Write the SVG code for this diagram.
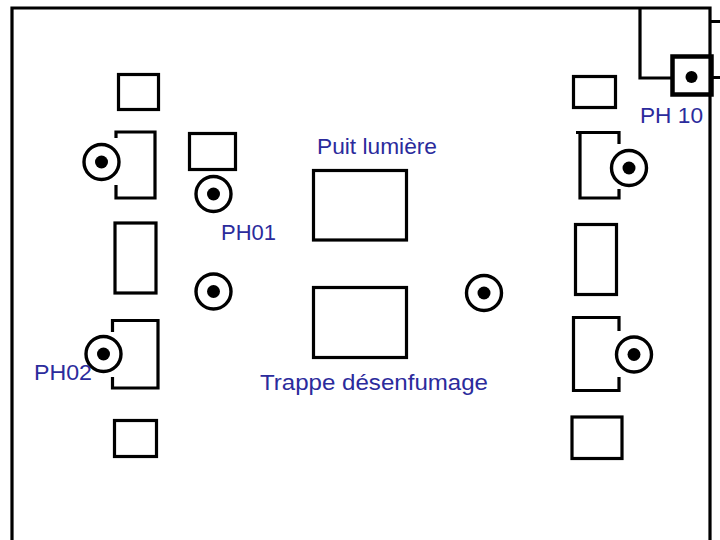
<svg xmlns="http://www.w3.org/2000/svg" width="720" height="540" viewBox="0 0 720 540">
<style>
.s{fill:none;stroke:#000;stroke-width:3.2}
.c{fill:#fff;stroke:#000;stroke-width:3.4}
.d{fill:#000}
.t{font-family:"Liberation Sans",Arial,sans-serif;font-size:22.500px;fill:#2b2b9c}
</style>
<rect width="720" height="540" fill="#fff"/>
<g id="walls">
<path class="s" d="M12 540V8H710V96"/>
<path class="s" d="M640 8V78H672"/>
<path class="s" d="M710 96V540"/>
<path class="s" d="M711 21.500H720M712 77.500H720"/>
</g>
<g id="box-ph10"><rect x="672.500" y="56.500" width="39" height="38" fill="none" stroke="#000" stroke-width="4.500"/><circle class="d" cx="691.500" cy="77" r="6"/></g>
<g id="rect-l1"><rect class="s" x="118.500" y="74.500" width="40" height="35"/></g>
<g id="rect-l2"><rect class="s" x="189.500" y="133.500" width="46" height="36" stroke-width="2.600"/></g>
<g id="rect-l3"><rect class="s" x="115" y="223" width="41" height="70"/></g>
<g id="rect-l4"><rect class="s" x="114.500" y="420.500" width="42" height="36"/></g>
<g id="rect-r1"><rect class="s" x="573.500" y="76.500" width="42" height="31"/></g>
<g id="rect-r2"><rect class="s" x="575.500" y="224.500" width="41" height="70"/></g>
<g id="rect-r3"><rect class="s" x="572" y="417" width="50" height="41.500"/></g>
<g id="puit"><rect class="s" x="313.500" y="170.500" width="93" height="69.500"/></g>
<g id="trappe"><rect class="s" x="313.500" y="287.500" width="93" height="70"/></g>
<g id="bracket-l1"><path class="s" d="M116 138V132H155V198H116V185"/></g>
<g id="bracket-l2"><path class="s" d="M112.500 332V320.500H158V388H112.500V377"/></g>
<g id="bracket-r1"><path class="s" d="M576 132.500H619V144M619 189V198H580V132.500"/></g>
<g id="bracket-r2"><path class="s" d="M619 331V317.500H573.500V390.500H619V377"/></g>
<g id="ph-l1"><circle class="c" cx="101.500" cy="162" r="17.500"/><circle class="d" cx="101.500" cy="162" r="6.500"/></g>
<g id="ph01"><circle class="c" cx="213.500" cy="194" r="17.500"/><circle class="d" cx="213.500" cy="194" r="6.500"/></g>
<g id="ph-c"><circle class="c" cx="213.500" cy="291.500" r="17.500"/><circle class="d" cx="213.500" cy="291.500" r="6.500"/></g>
<g id="ph02"><circle class="c" cx="103.500" cy="354" r="17.500"/><circle class="d" cx="103.500" cy="354" r="6.500"/></g>
<g id="ph-m"><circle class="c" cx="484" cy="293" r="17.500"/><circle class="d" cx="484" cy="293" r="6.500"/></g>
<g id="ph-r1"><circle class="c" cx="629" cy="168" r="17.500"/><circle class="d" cx="629" cy="168" r="6.500"/></g>
<g id="ph-r2"><circle class="c" cx="634" cy="354.500" r="17.500"/><circle class="d" cx="634" cy="354.500" r="6.500"/></g>
<g id="labels">
<text class="t" x="317" y="154" textLength="120" lengthAdjust="spacingAndGlyphs">Puit lumière</text>
<text class="t" x="221" y="240" textLength="55" lengthAdjust="spacingAndGlyphs">PH01</text>
<text class="t" x="34" y="380" textLength="58" lengthAdjust="spacingAndGlyphs">PH02</text>
<text class="t" x="640" y="123" textLength="63" lengthAdjust="spacingAndGlyphs">PH 10</text>
<text class="t" x="260" y="390" textLength="228" lengthAdjust="spacingAndGlyphs">Trappe désenfumage</text>
</g>
</svg>
